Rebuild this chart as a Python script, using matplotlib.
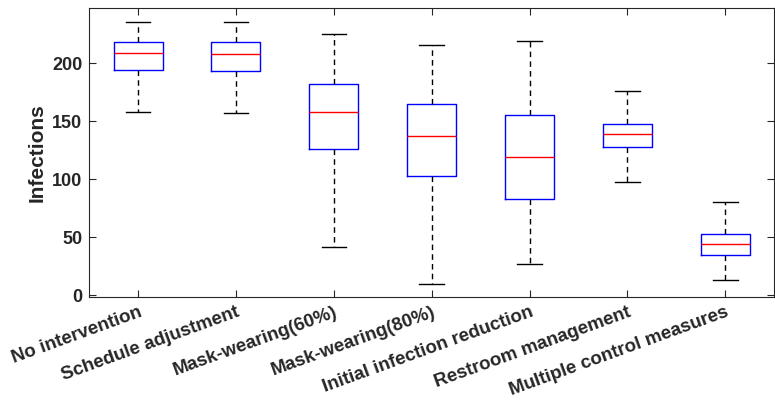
import matplotlib
matplotlib.use("Agg")
import matplotlib.pyplot as plt
from matplotlib.transforms import ScaledTranslation

categories = ["No intervention", "Schedule adjustment", "Mask-wearing(60%)",
              "Mask-wearing(80%)", "Initial infection reduction",
              "Restroom management", "Multiple control measures"]
whislo = [158, 157, 42, 10, 27, 98, 13]
q1     = [194, 193, 126, 103, 83, 128, 35]
med    = [209, 208, 158, 137, 119, 139, 44]
q3     = [218, 218, 182, 165, 155.5, 148, 53]
whishi = [236, 236, 225, 216, 219, 176, 80]
yticks = [0, 50, 100, 150, 200]

plt.rcParams['font.family'] = ['Liberation Sans', 'DejaVu Sans']
fig = plt.figure(figsize=(7.75, 4.12), dpi=100)
ax = fig.add_axes([0.115, 0.280, 0.884, 0.700])

stats = []
for i, c in enumerate(categories):
    stats.append(dict(label=c, whislo=whislo[i], q1=q1[i], med=med[i],
                      q3=q3[i], whishi=whishi[i], fliers=[]))

ax.bxp(stats, positions=range(1, len(categories) + 1), widths=0.5,
       showfliers=False, capwidths=0.25,
       boxprops=dict(color='blue', linewidth=1.0),
       medianprops=dict(color='red', linewidth=1.0),
       whiskerprops=dict(color='black', linestyle=(0, (4, 3)), linewidth=1.0),
       capprops=dict(color='black', linewidth=1.0))

ax.set_xlim(0.5, 7.5)
ax.set_ylim(-1.2, 247.5)
ax.set_yticks(yticks)
ax.set_xticks(range(1, len(categories) + 1))
ax.set_xticklabels(categories, rotation=20, ha='right', rotation_mode='anchor',
                   fontsize=13.5, fontweight='bold', color='#262626')
offset = ScaledTranslation(7 / 100, -5 / 100, fig.dpi_scale_trans)
for t in ax.get_xticklabels():
    t.set_transform(t.get_transform() + offset)
for t in ax.get_yticklabels():
    t.set_fontsize(13)
    t.set_fontweight('bold')
    t.set_color('#262626')
ax.set_ylabel('Infections', fontsize=15, fontweight='bold', color='#262626')
ax.tick_params(direction='in', top=True, right=True, length=5, width=0.8,
               color='#262626', pad=5)
for s in ax.spines.values():
    s.set_color('#262626')
    s.set_linewidth(0.8)

fig.savefig('out.png', dpi=100)
